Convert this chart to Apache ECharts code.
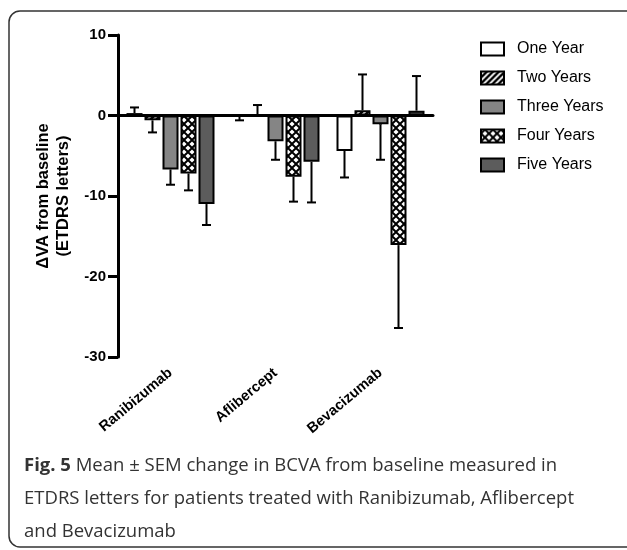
<!DOCTYPE html>
<html><head><meta charset="utf-8">
<script src="https://cdn.jsdelivr.net/npm/echarts@6/dist/echarts.min.js"></script>
<style>html,body{margin:0;padding:0;background:#fff}#c{width:627px;height:550px}</style>
</head><body><div id="c"></div>
<script>
const categories = ['Ranibizumab', 'Aflibercept', 'Bevacizumab'];
const seriesNames = ['One Year', 'Two Years', 'Three Years', 'Four Years', 'Five Years'];
const oneYear = [0.3, -0.15, -4.4];
const oneYearErr = [0.7, 0.45, 3.3];
const twoYears = [-0.6, 0, 0.65];
const twoYearsErr = [1.5, 1.3, 4.45];
const threeYears = [-6.7, -3.2, -1.1];
const threeYearsErr = [1.9, 2.3, 4.4];
const fourYears = [-7.2, -7.6, -16.1];
const fourYearsErr = [2.1, 3.1, 10.3];
const fiveYears = [-11.0, -5.75, 0.6];
const fiveYearsErr = [2.6, 5.05, 4.3];
const yMin = -30, yMax = 10, yStep = 10;
const yAxisName = 'ΔVA from baseline\n(ETDRS letters)';
const caption = '{b|Fig. 5} Mean ± SEM change in BCVA from baseline measured in\nETDRS letters for patients treated with Ranibizumab, Aflibercept\nand Bevacizumab';

const means = [oneYear, twoYears, threeYears, fourYears, fiveYears];
const errs = [oneYearErr, twoYearsErr, threeYearsErr, fourYearsErr, fiveYearsErr];

function hatchPattern() {
  const c = document.createElement('canvas'); c.width = 6; c.height = 6;
  const g = c.getContext('2d');
  g.fillStyle = '#fff'; g.fillRect(0, 0, 6, 6);
  g.strokeStyle = '#000'; g.lineWidth = 2.4;
  g.beginPath();
  g.moveTo(-1, 7); g.lineTo(7, -1);
  g.moveTo(-4, 4); g.lineTo(4, -4);
  g.moveTo(2, 10); g.lineTo(10, 2);
  g.stroke();
  return c;
}
function crossPattern() {
  const c = document.createElement('canvas'); c.width = 8; c.height = 8;
  const g = c.getContext('2d');
  g.fillStyle = '#000'; g.fillRect(0, 0, 8, 8);
  g.fillStyle = '#fff';
  const pts = [[0,0],[8,0],[0,8],[8,8],[4,4]];
  pts.forEach(([x, y]) => {
    g.beginPath();
    g.moveTo(x, y - 2.6); g.lineTo(x + 2.6, y); g.lineTo(x, y + 2.6); g.lineTo(x - 2.6, y);
    g.closePath(); g.fill();
  });
  return c;
}
const fills = ['#ffffff', {image: hatchPattern(), repeat: 'repeat'}, '#858585', {image: crossPattern(), repeat: 'repeat'}, '#5c5c5c'];

const barW = 16, gapRatio = 0.125;
const step = barW * (1 + gapRatio);

const series = [];
seriesNames.forEach((name, i) => {
  const s = {
    name, type: 'bar', data: means[i], barWidth: barW, barGap: (gapRatio * 100) + '%',
    itemStyle: {color: fills[i], borderColor: '#000', borderWidth: 2},
    emphasis: {disabled: true}, z: 2
  };
  if (i === 0) {
    s.markLine = {silent: true, symbol: 'none', label: {show: false},
      lineStyle: {color: '#000', width: 1.5, type: 'solid'}, data: [{yAxis: 0}]};
  }
  series.push(s);
});
seriesNames.forEach((name, i) => {
  const offset = (i - 2) * step;
  series.push({
    type: 'custom', name: name + ' err', z: 3, silent: true,
    data: categories.map((c, k) => [k, means[i][k], errs[i][k]]),
    encode: {x: 0, y: 1},
    renderItem(params, api) {
      const cat = api.value(0), v = api.value(1), e = api.value(2);
      const end = v >= 0 ? v + e : v - e;
      const p0 = api.coord([cat, v]);
      const p1 = api.coord([cat, end]);
      const x = p0[0] + offset;
      const st = {stroke: '#000', lineWidth: 2};
      return {type: 'group', children: [
        {type: 'line', shape: {x1: x, y1: p0[1], x2: x, y2: p1[1]}, style: st},
        {type: 'line', shape: {x1: x - 4.5, y1: p1[1], x2: x + 4.5, y2: p1[1]}, style: st}
      ]};
    }
  });
});

const chart = echarts.init(document.getElementById('c'), null, {renderer: 'canvas'});
chart.setOption({
  animation: false,
  backgroundColor: '#fff',
  grid: {left: 118, right: 194, top: 35, bottom: 193, containLabel: false},
  legend: {
    data: seriesNames, orient: 'vertical', left: 475, top: 36, icon: 'rect',
    itemWidth: 23, itemHeight: 13, itemGap: 13,
    textStyle: {fontFamily: 'Liberation Sans, Arial', fontSize: 16, color: '#000', padding: [0, 0, 0, 8]},
    selectedMode: false
  },
  xAxis: {
    type: 'category', data: categories,
    axisLine: {lineStyle: {color: '#000', width: 3}},
    axisTick: {show: true, alignWithLabel: true, length: 9, lineStyle: {color: '#000', width: 3}},
    axisLabel: {rotate: 40, margin: 14, color: '#000', fontFamily: 'Liberation Sans, Arial', fontWeight: 'bold', fontSize: 14.5},
    splitLine: {show: false}
  },
  yAxis: {
    type: 'value', min: yMin, max: yMax, interval: yStep,
    name: yAxisName, nameLocation: 'middle', nameRotate: 90, nameGap: 42,
    nameTextStyle: {fontFamily: 'Liberation Sans, Arial', fontWeight: 'bold', fontSize: 16.5, color: '#000', lineHeight: 20},
    axisLine: {show: true, lineStyle: {color: '#000', width: 3}},
    axisTick: {show: true, length: 10, lineStyle: {color: '#000', width: 3}},
    axisLabel: {margin: 12, color: '#000', fontFamily: 'Liberation Sans, Arial', fontWeight: 'bold', fontSize: 15},
    splitLine: {show: false}
  },
  graphic: [
    {type: 'rect', shape: {x: 9, y: 11, width: 640, height: 536, r: 11},
      style: {fill: 'none', stroke: '#333', lineWidth: 1.5}, silent: true, z: -1},
    {type: 'text', left: 24, top: 449, silent: true,
      style: {text: caption, fontFamily: 'Open Sans', fontSize: 18.5, fill: '#333', lineHeight: 33,
        rich: {b: {fontFamily: 'Open Sans', fontWeight: 'bold', fontSize: 18.5, fill: '#333', lineHeight: 33}}}}
  ],
  series
});
</script></body></html>
